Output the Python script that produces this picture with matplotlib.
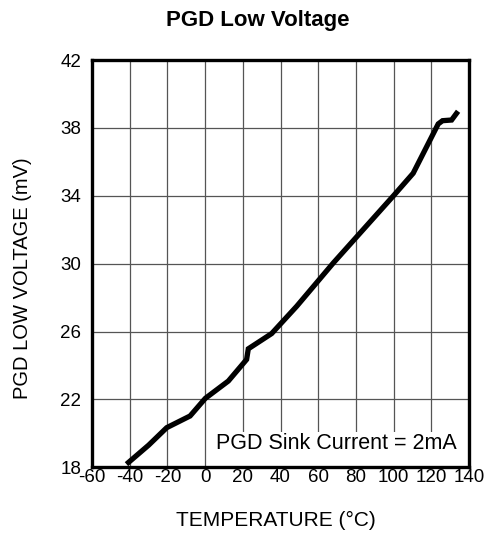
#!/usr/bin/env python3
import matplotlib
matplotlib.use("Agg")
import matplotlib.pyplot as plt
from matplotlib.patches import Rectangle

# curve
temp_c = [-40.7, -30, -20.4, -8, 0.1, 12.3, 22.0, 22.9, 35.3, 48.6, 68, 100.4, 110.4, 123.7, 126, 130.8, 133.4]
low_mv = [18.28, 19.3, 20.33, 21.02, 22.06, 23.08, 24.35, 24.98, 25.88, 27.49, 30.04, 34.06, 35.33, 38.24, 38.43, 38.47, 38.86]

x_ticks = [-60, -40, -20, 0, 20, 40, 60, 80, 100, 120, 140]
y_ticks = [18, 22, 26, 30, 34, 38, 42]

plt.rcParams["font.family"] = ["Liberation Sans", "DejaVu Sans"]
plt.rcParams["axes.unicode_minus"] = False

fig = plt.figure(figsize=(4.9, 5.37), dpi=100)
ax = fig.add_axes([0.188, 0.130, 0.769, 0.758])

ax.plot(temp_c, low_mv, color="black", lw=3.8, solid_joinstyle="miter", zorder=4)

ax.set_xlim(-60, 140)
ax.set_ylim(18, 42)
ax.set_xticks(x_ticks)
ax.set_yticks(y_ticks)
ax.tick_params(length=0, labelsize=13.5, pad=1)
ax.tick_params(axis="y", pad=8)
ax.grid(True, color="#555555", lw=0.9)
ax.set_axisbelow(True)
for s in ax.spines.values():
    s.set_linewidth(2.4)
    s.set_zorder(5)

# white patch hiding the grid behind the note
ax.add_patch(Rectangle((0.313, 0), 0.687, 0.086, transform=ax.transAxes,
                       facecolor="white", edgecolor="none", zorder=2))
ax.text(0.647, 0.057, "PGD Sink Current = 2mA", transform=ax.transAxes,
        ha="center", va="center", fontsize=15.5, zorder=3)

fig.text(0.527, 0.961, "PGD Low Voltage", ha="center", va="center",
         fontsize=16, fontweight="bold")
fig.text(0.563, 0.030, "TEMPERATURE (°C)", ha="center", va="center", fontsize=15)
fig.text(0.045, 0.482, "PGD LOW VOLTAGE (mV)", ha="center", va="center",
         rotation=90, fontsize=14.5)

fig.savefig("out.png", dpi=100)
